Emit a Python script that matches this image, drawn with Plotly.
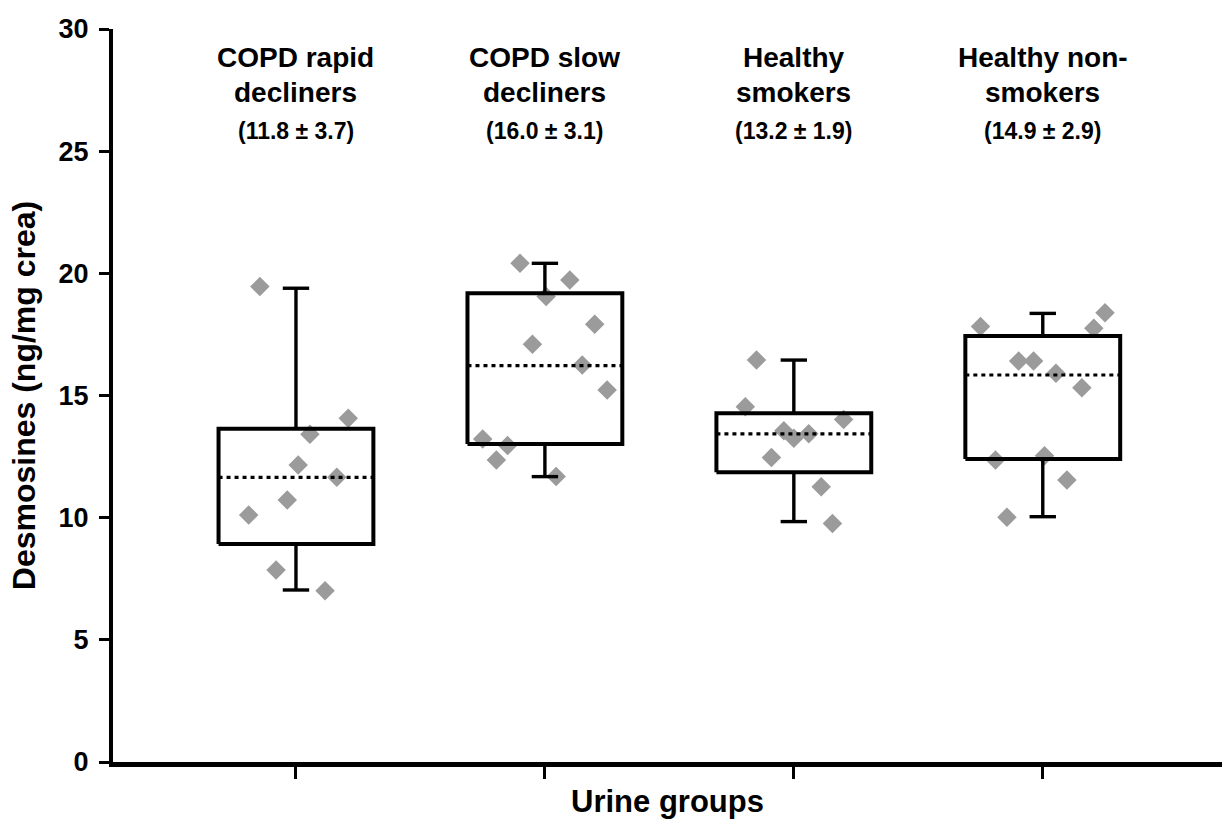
import plotly.graph_objects as go

# ---------------- data ----------------
categories = [1, 2, 3, 4]
label_line1 = ["COPD rapid", "COPD slow", "Healthy", "Healthy non-"]
label_line2 = ["decliners", "decliners", "smokers", "smokers"]
means = [11.8, 16.0, 13.2, 14.9]
sds = [3.7, 3.1, 1.9, 2.9]

q1 = [8.92, 13.02, 11.86, 12.40]
medians = [11.65, 16.22, 13.43, 15.84]
q3 = [13.64, 19.18, 14.27, 17.44]
whisker_lo = [7.04, 11.68, 9.84, 10.04]
whisker_hi = [19.39, 20.41, 16.45, 18.36]

rapid_vals = [19.46, 14.07, 13.41, 12.16, 11.65, 10.72, 10.11, 7.86, 7.01]
rapid_jit = [-0.145, 0.21, 0.056, 0.009, 0.164, -0.035, -0.19, -0.08, 0.117]

slow_vals = [20.41, 19.73, 19.05, 17.92, 17.10, 16.25, 15.23, 13.22, 12.95, 12.36, 11.68]
slow_jit = [-0.10, 0.10, 0.005, 0.20, -0.05, 0.15, 0.25, -0.25, -0.15, -0.195, 0.045]

smk_vals = [16.45, 14.54, 14.02, 13.56, 13.43, 13.25, 12.46, 11.27, 9.76]
smk_jit = [-0.15, -0.195, 0.20, -0.04, 0.06, 0.0, -0.09, 0.11, 0.155]

non_vals = [18.39, 17.75, 17.82, 16.41, 16.41, 15.91, 15.32, 12.53, 12.36, 11.54, 10.02]
non_jit = [0.25, 0.205, -0.25, -0.097, -0.037, 0.053, 0.157, 0.007, -0.19, 0.097, -0.144]

point_vals = [rapid_vals, slow_vals, smk_vals, non_vals]
point_jit = [rapid_jit, slow_jit, smk_jit, non_jit]

# ---------------- styling ----------------
BOX_HW = 0.311
CAP_HW = 0.053
FONT = "Liberation Sans, Arial, Helvetica, sans-serif"

fig = go.Figure()

# scatter points (drawn first, boxes on top)
for c, vals, jit in zip(categories, point_vals, point_jit):
    fig.add_trace(go.Scatter(
        x=[c + j for j in jit], y=vals, mode="markers",
        marker=dict(symbol="diamond", size=15, color="#9b9b9b", line=dict(width=0)),
        showlegend=False, hoverinfo="y"))

# boxes, whiskers, caps, medians
for c, a, m, b, lo, hi in zip(categories, q1, medians, q3, whisker_lo, whisker_hi):
    fig.add_trace(go.Scatter(
        x=[c - BOX_HW, c + BOX_HW, c + BOX_HW, c - BOX_HW, c - BOX_HW],
        y=[a, a, b, b, a], mode="lines",
        line=dict(color="black", width=4), showlegend=False, hoverinfo="skip"))
    fig.add_trace(go.Scatter(
        x=[c, c, None, c, c, None, c - CAP_HW, c + CAP_HW, None, c - CAP_HW, c + CAP_HW],
        y=[b, hi, None, a, lo, None, hi, hi, None, lo, lo], mode="lines",
        line=dict(color="black", width=3.4), showlegend=False, hoverinfo="skip"))
    fig.add_trace(go.Scatter(
        x=[c - BOX_HW, c + BOX_HW], y=[m, m], mode="lines",
        line=dict(color="black", width=3.2, dash="4px,4px"),
        showlegend=False, hoverinfo="skip"))

# group labels at top
for c, l1, l2, mu, sd in zip(categories, label_line1, label_line2, means, sds):
    fig.add_annotation(x=c, xref="x", y=0.9618, yref="paper", text=f"<b>{l1}</b>",
                       showarrow=False, yanchor="middle",
                       font=dict(family=FONT, size=28, color="black"))
    fig.add_annotation(x=c, xref="x", y=0.9127, yref="paper", text=f"<b>{l2}</b>",
                       showarrow=False, yanchor="middle",
                       font=dict(family=FONT, size=28, color="black"))
    fig.add_annotation(x=c, xref="x", y=0.8608, yref="paper",
                       text=f"<b>({mu:.1f} ± {sd:.1f})</b>",
                       showarrow=False, yanchor="middle",
                       font=dict(family=FONT, size=23, color="black"))

fig.update_layout(
    width=1222, height=819,
    margin=dict(l=113, r=0, t=29, b=57),
    plot_bgcolor="white", paper_bgcolor="white",
    showlegend=False,
    xaxis=dict(
        range=[0.265, 4.72], tickvals=categories, ticktext=["", "", "", ""],
        ticks="outside", ticklen=12, tickwidth=2.5, tickcolor="black",
        showline=True, linecolor="black", linewidth=4.5,
        showgrid=False, zeroline=False,
        title=dict(text="<b>Urine groups</b>", standoff=12,
                   font=dict(family=FONT, size=31, color="black")),
    ),
    yaxis=dict(
        range=[0, 30], tickvals=[0, 5, 10, 15, 20, 25, 30],
        ticks="outside", ticklen=10, tickwidth=3, tickcolor="black",
        ticklabelstandoff=5,
        showline=True, linecolor="black", linewidth=4,
        showgrid=False, zeroline=False,
        tickfont=dict(family=FONT, size=27, color="black", weight="bold"),
        title=dict(text="<b>Desmosines (ng/mg crea)</b>", standoff=14,
                   font=dict(family=FONT, size=32, color="black")),
    ),
)

fig.write_html("out.html")
